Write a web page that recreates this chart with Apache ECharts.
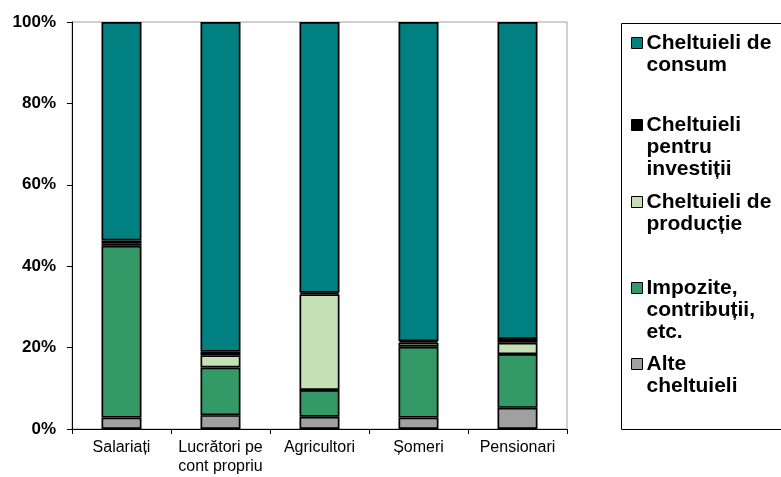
<!DOCTYPE html>
<html>
<head>
<meta charset="utf-8">
<script src="https://cdn.jsdelivr.net/npm/echarts@6/dist/echarts.min.js"></script>
<style>
html,body{margin:0;padding:0;background:#fff;}
#chart{width:781px;height:477px;}
</style>
</head>
<body>
<div id="chart"></div>
<script>
var categories = ['Salariați', 'Lucrători pe\ncont propriu', 'Agricultori', 'Șomeri', 'Pensionari'];
var seriesNames = ['Cheltuieli de consum', 'Cheltuieli pentru investiții', 'Cheltuieli de producție', 'Impozite, contribuții, etc.', 'Alte cheltuieli'];
var legendLabels = ['Cheltuieli de\nconsum', 'Cheltuieli\npentru\ninvestiții', 'Cheltuieli de\nproducție', 'Impozite,\ncontribuții,\netc.', 'Alte\ncheltuieli'];
var alteCheltuieli = [2.8, 3.4, 3.0, 2.8, 5.2];
var impozite = [42.2, 11.7, 6.6, 17.4, 13.2];
var productie = [0.5, 3.0, 23.5, 1.0, 2.8];
var investitii = [0.8, 0.9, 0.4, 0.4, 0.9];
var consum = [53.7, 81.0, 66.5, 78.4, 77.9];
var yTicks = [0, 20, 40, 60, 80, 100];

var colors = {
  'Cheltuieli de consum': '#008080',
  'Cheltuieli pentru investiții': '#000000',
  'Cheltuieli de producție': '#c6e0b5',
  'Impozite, contribuții, etc.': '#339966',
  'Alte cheltuieli': '#a0a0a0'
};
var FONT = "'Liberation Sans', Arial, sans-serif";

var chart = echarts.init(document.getElementById('chart'), null, {renderer: 'canvas'});

function mkSeries(name, data) {
  return {
    name: name, type: 'bar', stack: 'total', data: data,
    barWidth: 40,
    itemStyle: {color: colors[name], borderColor: '#000', borderWidth: 1.7},
    emphasis: {disabled: true}
  };
}

// legend layout: one legend per item so the marker aligns with the first line
var firstLineCenters = [43, 125, 202, 288, 364];
var LH = 22;
var legends = seriesNames.map(function (name, i) {
  var lines = legendLabels[i].split('\n');
  var n = lines.length;
  var pad = '';
  for (var k = 0; k < n - 1; k++) pad += '\n';
  return {
    data: [name],
    orient: 'vertical',
    left: 631,
    top: firstLineCenters[i] - (n - 1) * LH - LH / 2,
    padding: 0,
    itemWidth: 11,
    itemHeight: 11,
    itemGap: 0,
    icon: 'rect',
    selectedMode: false,
    itemStyle: {borderColor: '#000', borderWidth: 1},
    formatter: function () { return pad + legendLabels[i]; },
    textStyle: {fontFamily: FONT, fontSize: 21, fontWeight: 'bold', color: '#000', lineHeight: LH, padding: [0, 0, 0, -1]}
  };
});

var option = {
  animation: false,
  backgroundColor: '#fff',
  grid: {left: 72, right: 214, top: 22, bottom: 48, show: true, borderColor: '#a0a0a0', borderWidth: 1, backgroundColor: 'transparent'},
  legend: legends,
  graphic: [{
    type: 'rect', shape: {x: 621.5, y: 23.5, width: 300, height: 406},
    style: {fill: 'none', stroke: '#000', lineWidth: 1}, z: -1
  }],
  xAxis: {
    type: 'category', data: categories, boundaryGap: true,
    axisLine: {lineStyle: {color: '#000', width: 1}},
    axisTick: {show: true, length: 5, alignWithLabel: false, lineStyle: {color: '#000'}},
    axisLabel: {fontFamily: FONT, fontSize: 16, color: '#000', margin: 9, lineHeight: 19, interval: 0}
  },
  yAxis: {
    type: 'value', min: 0, max: 100, interval: 20,
    axisLine: {show: true, lineStyle: {color: '#000', width: 1}},
    axisTick: {show: true, length: 5, lineStyle: {color: '#000'}},
    splitLine: {show: false},
    axisLabel: {formatter: '{value}%', fontFamily: FONT, fontSize: 17, fontWeight: 'bold', color: '#000', margin: 16}
  },
  series: [
    mkSeries('Alte cheltuieli', alteCheltuieli),
    mkSeries('Impozite, contribuții, etc.', impozite),
    mkSeries('Cheltuieli de producție', productie),
    mkSeries('Cheltuieli pentru investiții', investitii),
    mkSeries('Cheltuieli de consum', consum)
  ]
};
chart.setOption(option);
</script>
</body>
</html>
